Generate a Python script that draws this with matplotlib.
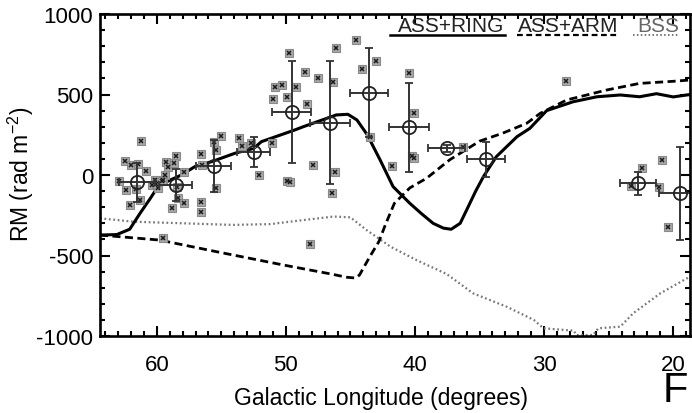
import matplotlib
matplotlib.use("Agg")
import matplotlib.pyplot as plt
from matplotlib.ticker import MultipleLocator

plt.rcParams['font.family'] = ['Liberation Sans', 'DejaVu Sans']
plt.rcParams['mathtext.fontset'] = 'custom'
plt.rcParams['mathtext.rm'] = 'Liberation Sans'
plt.rcParams['mathtext.it'] = 'Liberation Sans'
plt.rcParams['axes.unicode_minus'] = False

# ---- individual RM measurements ----
pt_lon = [61.2, 62.5, 62.0, 61.45, 60.8, 62.9, 62.35, 61.6, 62.1, 61.3, 60.4, 59.9,
          59.25, 59.1, 58.55, 58.65, 59.4, 59.5, 60.15, 58.4, 58.35, 57.9, 58.8,
          56.6, 56.6, 57.9, 56.6, 55.6, 55.0, 55.4, 55.4, 53.6, 53.4, 52.7, 52.1,
          51.1, 49.9, 56.5, 60.05, 59.6,
          49.75, 48.5, 47.5, 50.85, 50.3, 51.0, 49.2, 49.95, 48.4, 49.7, 47.9,
          46.1, 46.35, 46.2, 46.4, 44.6, 43.0, 44.1, 40.5, 40.05, 43.5, 40.2,
          48.15, 41.8, 40.1, 36.25, 28.3, 22.4, 20.9, 23.3, 21.1, 20.4, 59.55]
pt_rm = [213, 85, 62, 68, 25, -37, -93, -87, -186, -155, -62, -83,
         83, 52, 120, 76, 0, -31, -31, -76, -145, -176, -207,
         -166, -228, 21, 128, 207, 242, 155, -83, 228, 180, 197, 0,
         197, -37, 62, -55, -40,
         756, 642, 600, 545, 559, 470, 545, 486, 441, -42, 62,
         787, 580, 21, -114, 838, 709, 656, 635, 383, 234, 118,
         -430, 56, 104, 176, 584, 46, 93, -68, -72, -321, -393]

# ---- binned averages with error bars ----
bin_lon = [61.55, 58.55, 55.6, 52.5, 49.55, 46.6, 43.55, 40.5, 37.55, 34.5, 22.7, 19.5]
bin_rm = [-45, -62, 56, 143, 390, 325, 511, 296, 166, 97, -52, -114]
bin_lon_err = [1.4, 1.25, 1.35, 1.3, 1.5, 1.55, 1.45, 1.55, 1.45, 1.5, 1.4, 1.6]
bin_rm_err = [120, 100, 160, 95, 315, 380, 275, 275, 22, 110, 70, 290]

# ---- model curves ----
ring_lon = [64.4, 63.1, 62.1, 61.3, 60.5, 60.0, 59.25, 58.1, 57.05, 55.75, 53.95, 52.5,
            51.9, 49.3, 48.65, 46.1, 45.2, 44.5, 43.7, 43.0, 42.7, 41.7, 40.4, 39.5,
            38.6, 37.8, 37.2, 36.5, 36.0, 35.3, 34.7, 33.7, 32.1, 31.1, 29.8, 27.75,
            25.9, 24.1, 22.6, 21.3, 20.0, 18.7]
ring_rm = [-373, -370, -337, -238, -145, -83, -42, 0, 52, 83, 135, 165,
           207, 280, 300, 373, 377, 342, 250, 140, 93, -72, -176, -240,
           -300, -330, -337, -300, -217, -100, -10, 114, 238, 290, 400, 455,
           486, 497, 486, 505, 485, 500]

arm_lon = [64.4, 59.8, 55.4, 50.2, 46.5, 45.3, 44.6, 44.3, 43.5, 42.8, 42.3, 41.6,
           40.4, 39.1, 37.3, 35.0, 33.2, 31.35, 30.3, 28.25, 26.7, 25.15, 22.6,
           20.0, 18.7]
arm_rm = [-373, -404, -476, -559, -615, -635, -640, -621, -507, -414, -310, -176,
          -80, -20, 95, 210, 260, 321, 383, 466, 497, 528, 569,
          582, 590]

bss_lon = [64.4, 61.8, 58.0, 54.1, 51.2, 48.65, 46.3, 45.0, 43.75, 41.9, 39.9, 37.55,
           35.5, 32.9, 30.8, 30.05, 27.7, 27.5, 26.2, 25.8, 24.1, 23.1, 21.0, 18.7]
bss_rm = [-269, -290, -300, -310, -305, -280, -258, -263, -342, -445, -528, -615,
          -735, -818, -900, -952, -967, -994, -994, -952, -942, -859, -735, -631]

legend_labels = ['ASS+RING', 'ASS+ARM', 'BSS']
x_ticks = [60, 50, 40, 30, 20]
y_ticks = [-1000, -500, 0, 500, 1000]

W, H = 692, 414
fig = plt.figure(figsize=(W / 100, H / 100), dpi=100)
L, R, T, B = 100, 690, 15, 337
ax = fig.add_axes([L / W, 1 - B / H, (R - L) / W, (B - T) / H])

ax.plot(bss_lon, bss_rm, color='#777777', lw=1.6, linestyle=(0, (0.8, 1.2)))
ax.plot(arm_lon, arm_rm, color='black', lw=2.0, dashes=(2.9, 1.6))
ax.plot(ring_lon, ring_rm, color='black', lw=2.2, solid_capstyle='round')

ax.plot(pt_lon, pt_rm, linestyle='none', marker='s', ms=6, mfc='#a8a8a8', mec='#8a8a8a', mew=0.8)
ax.plot(pt_lon, pt_rm, linestyle='none', marker='x', ms=3.5, color='#1a1a1a', mew=1.1)

ax.errorbar(bin_lon, bin_rm, xerr=bin_lon_err, yerr=bin_rm_err, fmt='o', ms=9.5,
            mfc='none', mec='#222222', mew=1.3, ecolor='#333333', elinewidth=1.4,
            capsize=3, capthick=1.4)

ax.set_xlim(64.4, 18.7)
ax.set_ylim(-1000, 1000)
ax.set_xticks(x_ticks)
ax.set_yticks(y_ticks)
ax.xaxis.set_minor_locator(MultipleLocator(1))
ax.yaxis.set_minor_locator(MultipleLocator(100))
ax.tick_params(which='both', direction='in', top=True, right=True, width=1.5, labelsize=16)
ax.tick_params(which='major', length=7)
ax.tick_params(which='minor', length=3.5)
ax.tick_params(axis='x', pad=13)
ax.tick_params(axis='y', pad=5)
for s in ax.spines.values():
    s.set_linewidth(1.9)

ax.set_xlabel('Galactic Longitude (degrees)', fontsize=16.5)
ax.set_ylabel('RM (rad m$^{-2}$)', fontsize=16.5)
ax.xaxis.set_label_coords((381.5 - L) / (R - L), (B - 387) / (B - T))
ax.yaxis.set_label_coords((36 - L) / (R - L), (B - 174) / (B - T))

# custom legend (text with underline of matching style)
def ax_x(px):
    return (px - L) / (R - L)

def ax_y(py):
    return (B - py) / (B - T)

leg_text_x = [398, 518, 637]
leg_line_x = [(390, 505), (517, 617), (633, 678)]
leg_styles = [dict(color='black', lw=1.8),
              dict(color='black', lw=1.6, dashes=(2.6, 1.6)),
              dict(color='#777777', lw=1.4, linestyle=(0, (0.8, 1.2)))]
for lab, tx, (x0, x1), st in zip(legend_labels, leg_text_x, leg_line_x, leg_styles):
    ax.text(ax_x(tx), ax_y(32), lab, transform=ax.transAxes, fontsize=15,
            ha='left', va='baseline', color='#222222' if lab != 'BSS' else '#666666')
    ax.plot([ax_x(x0), ax_x(x1)], [ax_y(36), ax_y(36)], transform=ax.transAxes,
            clip_on=False, **st)

fig.text(663 / W, 1 - 402 / H, 'F', fontsize=30, ha='left', va='baseline')

fig.savefig('out.png', dpi=100)
